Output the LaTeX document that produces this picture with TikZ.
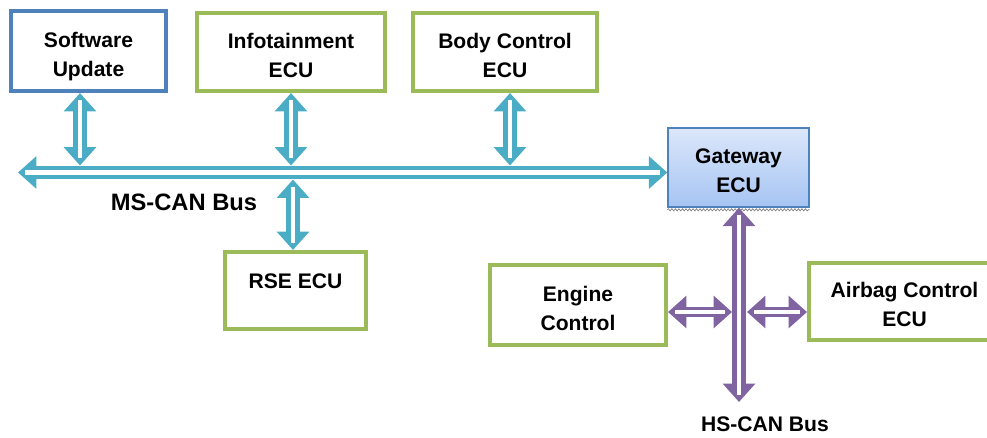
\documentclass[tikz,border=0pt]{standalone}
\usepackage{fontspec}
\setmainfont{Liberation Sans}
\usetikzlibrary{arrows.meta,decorations.pathmorphing}

\definecolor{msteal}{HTML}{4BACC6}
\definecolor{hspurple}{HTML}{8064A2}
\definecolor{ecugreen}{HTML}{9BBB59}
\definecolor{swblue}{HTML}{4F81BD}
\definecolor{gwtop}{HTML}{DCE7FA}
\definecolor{gwbottom}{HTML}{A6C4F3}

\newcommand\ecufont{\bfseries\fontsize{12}{16.5}\selectfont}

\begin{document}
\begin{tikzpicture}[
    x=0.02cm, y=-0.02cm,
    ecu/.style={rectangle,draw=ecugreen,line width=2.3pt,align=center,font=\ecufont,text height=28.6pt,text depth=0pt},
    swbox/.style={ecu,draw=swblue},
    gwbox/.style={ecu,draw=swblue,line width=0.8pt,top color=gwtop,bottom color=gwbottom},
    buslabel/.style={font=\ecufont},
    canarrow/.style n args={3}{draw=#1,line width=#2,
        {Triangle[width=18pt,length=10.5pt]}-{Triangle[width=18pt,length=10.5pt]},
        postaction={draw=white,line width=#3,-,shorten <=4pt,shorten >=4pt}},
    msarrow/.style={canarrow={msteal}{8.5pt}{2.8pt}},
    msbus/.style={canarrow={msteal}{7.8pt}{2.8pt}},
    hsarrow/.style={canarrow={hspurple}{8.5pt}{2.8pt}},
    hsside/.style={canarrow={hspurple}{6pt}{2pt}}
]
    \useasboundingbox (0,0) rectangle (987,437);

    % Define nodes
    \node[swbox,minimum width=3.1cm,minimum height=1.6cm] (swupd) at (88.5,51) {Software\\Update};
    \node[ecu,minimum width=3.76cm,minimum height=1.56cm] (info) at (291,52) {Infotainment\\ECU};
    \node[ecu,minimum width=3.68cm,minimum height=1.56cm] (body) at (505,52) {Body Control\\ECU};
    \node[gwbox,minimum width=2.82cm,minimum height=1.58cm] (gw) at (738.5,167.5) {Gateway\\ECU};
    \node[ecu,minimum width=2.82cm,minimum height=1.54cm,text height=9pt,text depth=11.8pt] (rse) at (295.5,290.5) {RSE ECU};
    \node[ecu,minimum width=3.52cm,minimum height=1.6cm] (engine) at (578,305) {Engine\\Control};
    \node[ecu,minimum width=3.82cm,minimum height=1.54cm] (airbag) at (904.5,301.5) {Airbag Control\\ECU};

    \node[buslabel,font=\bfseries\fontsize{13.5}{16}\selectfont] (mslabel) at (184,202.5) {MS-CAN Bus};
    \node[buslabel] (hslabel) at (765,424) {HS-CAN Bus};

    % shadow edge under the gateway
    \draw[gray,line width=0.4pt,decorate,decoration={snake,amplitude=0.6pt,segment length=2pt}]
        ([yshift=-1.2pt]gw.south west) -- ([yshift=-1.2pt]gw.south east);

    % Bus taps
    \coordinate (msL) at (18,172.5);
    \coordinate (tapsw) at (80,165.5);
    \coordinate (tapinfo) at (291,165.5);
    \coordinate (tapbody) at (510,165.5);
    \coordinate (taprse) at (293,179.5);
    \coordinate (hsend) at (739,402);
    \coordinate (hsE) at (732,312);
    \coordinate (hsW) at (747,312);

    % Draw arrows and connections
    \draw[msbus] (msL) -- (msL -| gw.west);
    \draw[msarrow] (swupd.south -| tapsw) -- (tapsw);
    \draw[msarrow] (info.south -| tapinfo) -- (tapinfo);
    \draw[msarrow] (body.south -| tapbody) -- (tapbody);
    \draw[msarrow] (taprse) -- (rse.north -| taprse);

    \draw[hsarrow] (gw.south -| hsend) -- (hsend);
    \draw[hsside] (hsE -| engine.east) -- (hsE);
    \draw[hsside] (hsW) -- (hsW -| airbag.west);
\end{tikzpicture}
\end{document}
